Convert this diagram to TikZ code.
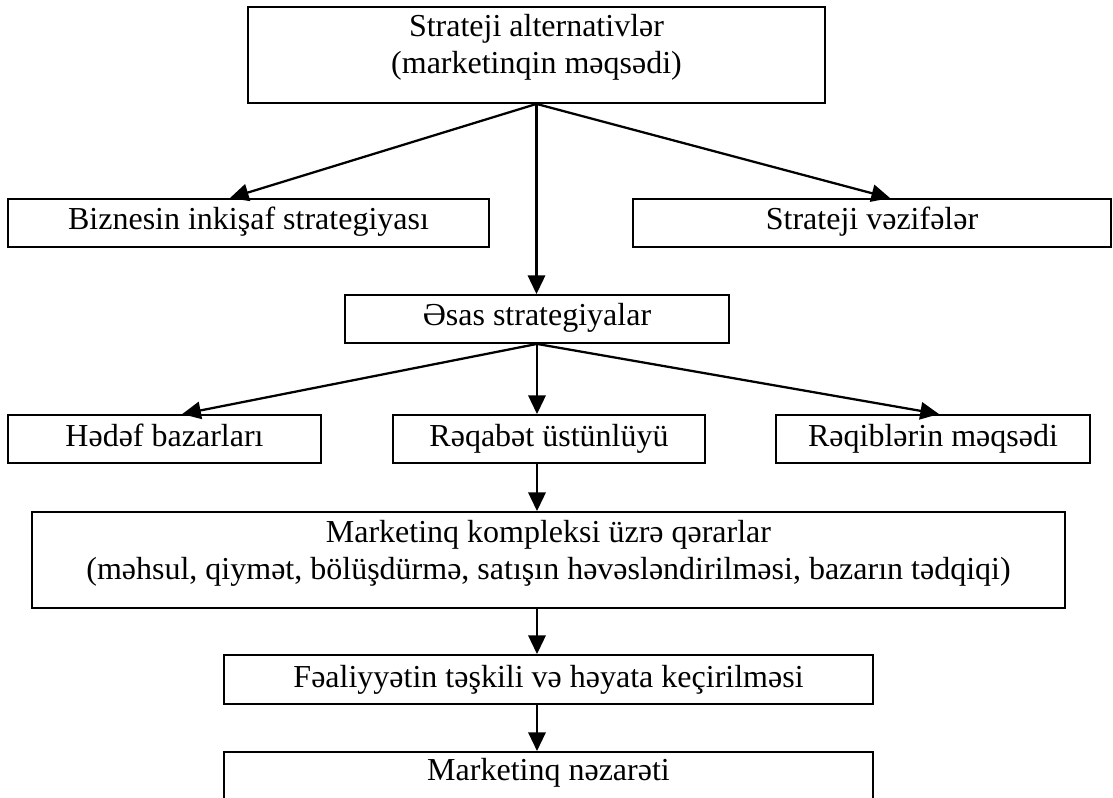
\documentclass[tikz,border=0pt]{standalone}
\usepackage{fontspec}
\setmainfont{Liberation Serif}
\usetikzlibrary{arrows.meta,calc}

% two-line cell whose baseline is its last line
\newcommand{\twolines}[2]{\begin{tabular}[b]{@{}c@{}}#1\\#2\end{tabular}}

\tikzset{
  box/.style={draw, line width=1.4pt, inner sep=0pt,
    text height=23.25pt, text depth=12.75pt,
    font=\fontsize{24}{27.75}\selectfont},
  tallbox/.style={box, text height=50.25pt, text depth=21.75pt},
  link/.style={line width=1.7pt, -{Triangle[length=14pt,width=13pt]}}
}

\begin{document}
\begin{tikzpicture}[x=0.75pt,y=-0.75pt]
  \clip (0,0) rectangle (1113,798);
  \fill[white] (0,0) rectangle (1113,798);

  % top level
  \node[tallbox, minimum width=432.75pt] (top) at (536.5,55)
    {\twolines{Strateji alternativlər}{(marketinqin məqsədi)}};

  % second row
  \node[box, minimum width=360.75pt] (biz) at (248.5,223) {Biznesin inkişaf strategiyası};
  \node[box, minimum width=358.5pt]  (vez) at (872,223)   {Strateji vəzifələr};

  % basic strategies
  \node[box, minimum width=288pt] (esas) at (537,319) {Əsas strategiyalar};

  % third row
  \node[box, minimum width=234.75pt] (hedef)   at (164.5,439) {Hədəf bazarları};
  \node[box, minimum width=234pt]    (reqabet) at (549,439)   {Rəqabət üstünlüyü};
  \node[box, minimum width=235.5pt]  (reqib)   at (933,439)   {Rəqiblərin məqsədi};

  % marketing mix
  \node[tallbox, minimum width=774.75pt] (mkt) at (548.5,560)
    {\twolines{Marketinq kompleksi üzrə qərarlar}{(məhsul, qiymət, bölüşdürmə, satışın həvəsləndirilməsi, bazarın tədqiqi)}};

  % implementation and control
  \node[box, minimum width=486.75pt, text height=24pt] (feal) at (548.5,679.5)
    {Fəaliyyətin təşkili və həyata keçirilməsi};
  \node[box, minimum width=486.75pt, anchor=north,
        text height=21.75pt, text depth=30pt] (nez) at (548.5,751)
    {Marketinq nəzarəti};

  % connectors
  \coordinate (hubA) at (top.south);
  \coordinate (hubB) at (esas.south);
  \draw[link] (hubA) -- ($(biz.north west)!0.4615!(biz.north east)$);
  \draw[link] (hubA) -- ($(vez.north west)!0.5377!(vez.north east)$);
  \draw[link] (hubA) -- (hubA |- esas.north);

  \draw[link] (hubB) -- ($(hedef.north west)!0.556!(hedef.north east)$);
  \draw[link] (hubB) -- ($(reqib.north west)!0.519!(reqib.north east)$);
  \draw[link] (hubB) -- (hubB |- reqabet.north);

  \draw[link] (hubB |- reqabet.south) -- (hubB |- mkt.north);
  \draw[link] (hubB |- mkt.south) -- (hubB |- feal.north);
  \draw[link] (hubB |- feal.south) -- (hubB |- nez.north);
\end{tikzpicture}
\end{document}
